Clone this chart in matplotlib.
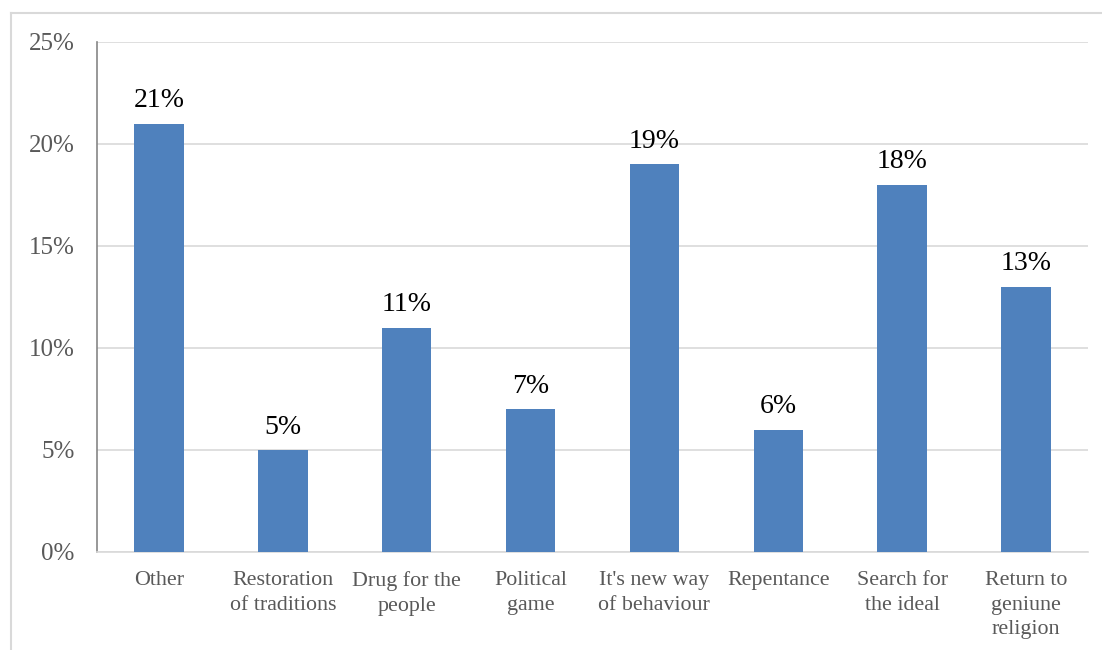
import matplotlib.pyplot as plt
from matplotlib.lines import Line2D
from matplotlib.ticker import FuncFormatter

categories = ["Other", "Restoration\nof traditions", "Drug for the\npeople", "Political\ngame",
              "It's new way\nof behaviour", "Repentance", "Search for\nthe ideal",
              "Return to\ngeniune\nreligion"]
values = [21, 5, 11, 7, 19, 6, 18, 13]
yticks = [0, 5, 10, 15, 20, 25]

plt.rcParams['font.family'] = ['Liberation Serif', 'DejaVu Serif']

W, H = 1102, 650
fig = plt.figure(figsize=(W / 100, H / 100), dpi=100)
ax = fig.add_axes([97 / W, 1 - 552 / H, (1088 - 97) / W, (552 - 42) / H])

# chart frame, cropped on the right and bottom: only left and top edges show
fx, fy = 10.5 / W, 1 - 12.5 / H
fig.add_artist(Line2D([fx, fx], [0, fy], transform=fig.transFigure, color='#D9D9D9', lw=1.5))
fig.add_artist(Line2D([fx, 1], [fy, fy], transform=fig.transFigure, color='#D9D9D9', lw=1.5))

x = range(len(categories))
ax.bar(x, values, width=0.4, color='#4F81BD', zorder=3)
for xi, v in zip(x, values):
    ax.text(xi, v + 0.8, f"{v}%", ha='center', va='baseline', fontsize=20, color='black')

ax.set_xlim(-0.5, len(categories) - 0.5)
ax.set_ylim(0, 25)
ax.set_yticks(yticks)
ax.yaxis.set_major_formatter(FuncFormatter(lambda v, p: f"{v:.0f}%"))
ax.set_xticks(list(x))
ax.set_xticklabels(categories, linespacing=1.38)

ax.grid(axis='y', color='#D9D9D9', linewidth=1.2, zorder=0)
ax.tick_params(axis='y', length=0, pad=16, labelsize=18, labelcolor='#595959')
ax.tick_params(axis='x', length=0, pad=14, labelsize=15.8, labelcolor='#595959')

for s in ['top', 'right']:
    ax.spines[s].set_visible(False)
ax.spines['left'].set_color('#868686')
ax.spines['left'].set_linewidth(1.2)
ax.spines['bottom'].set_color('#D9D9D9')
ax.spines['bottom'].set_linewidth(1.2)

fig.savefig('out.png', dpi=100, facecolor='white')
